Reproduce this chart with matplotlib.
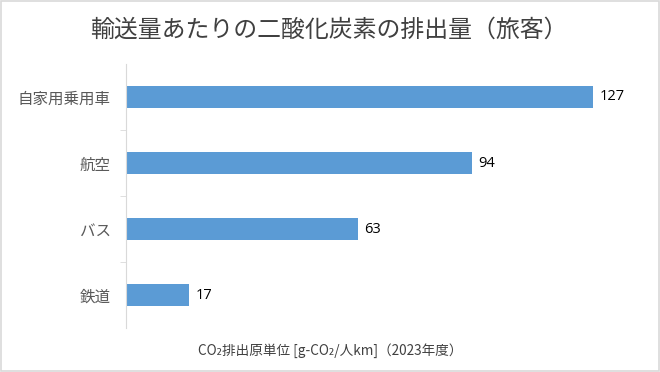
import matplotlib
matplotlib.use("Agg")
import matplotlib.pyplot as plt
from matplotlib.patches import Rectangle

plt.rcParams['font.family'] = ['Noto Sans CJK JP', 'DejaVu Sans']

categories = ['自家用乗用車', '航空', 'バス', '鉄道']
values = [127, 94, 63, 17]
title = '輸送量あたりの二酸化炭素の排出量（旅客）'
xlabel = 'CO₂排出原単位 [g-CO₂/人km]（2023年度）'

fig = plt.figure(figsize=(6.6, 3.72), dpi=100)
ax = fig.add_axes([0.191, 0.118, 0.78, 0.71])

pos = list(range(len(categories)))[::-1]
ax.barh(pos, values, height=0.34, color='#5B9BD5')
for p, v in zip(pos, values):
    ax.text(v + 1.8, p, str(v), va='center', ha='left', fontsize=10.5,
            color='#000000', family=['Open Sans', 'DejaVu Sans'])

ax.set_xlim(0, 140)
ax.set_ylim(-0.5, len(categories) - 0.5)
ax.set_yticks(pos)
ax.set_yticklabels(categories, fontsize=11.2, color='#595959')
ax.set_yticks([0.5, 1.5, 2.5], minor=True)
ax.tick_params(axis='y', which='major', length=0, pad=11)
ax.tick_params(axis='y', which='minor', length=4, color='#d9d9d9', direction='out')
ax.set_xticks([])
for s in ['top', 'right', 'bottom']:
    ax.spines[s].set_visible(False)
ax.spines['left'].set_color('#d9d9d9')

fig.text(0.498, 0.918, title, ha='center', va='center', fontsize=17.2, color='#404040')
fig.text(0.5, 0.058, xlabel, ha='center', va='center', fontsize=9.8, color='#404040')

fig.patches.append(Rectangle((0.002, 0.003), 0.996, 0.994, transform=fig.transFigure,
                             fill=False, edgecolor='#d9d9d9', linewidth=1.2))

fig.savefig('out.png', dpi=100)
